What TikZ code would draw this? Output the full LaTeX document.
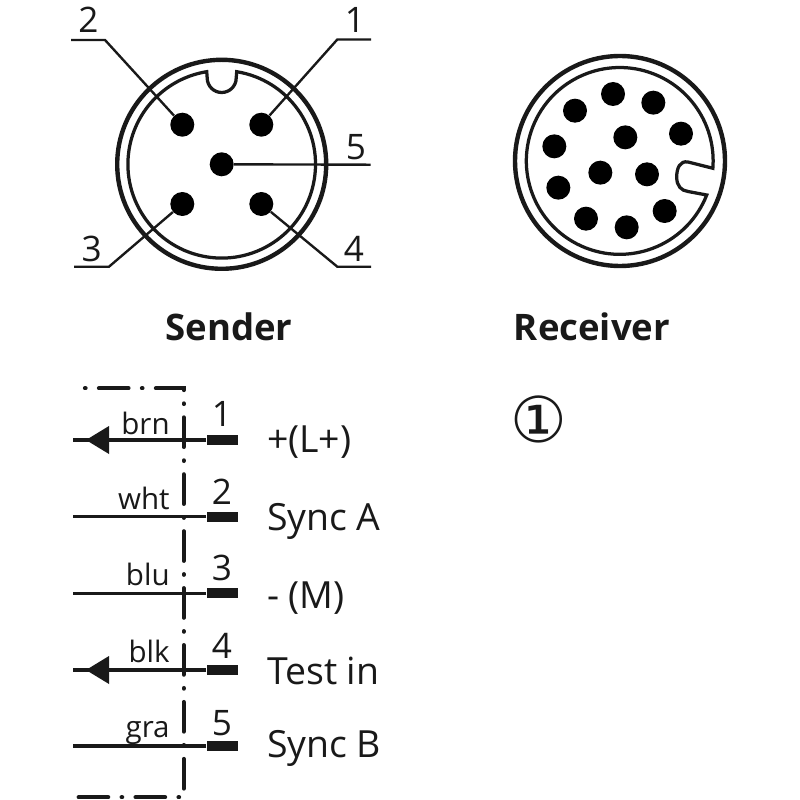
\documentclass[tikz,border=0pt]{standalone}
\usepackage{fontspec}
\setmainfont{Open Sans}
\newfontfamily\symfont{DejaVu Sans}
\usetikzlibrary{calc}
\tikzset{
  x=0.02cm,y=-0.02cm,
  pin/.style={circle,fill=black,draw=none,minimum size=0.48cm,inner sep=0pt},
  leader/.style={line width=1.35pt,black!90},
  outerring/.style={line width=2.5pt,black!90},
  innerring/.style={line width=1.85pt,black!90,miter limit=6},
  wire/.style={line width=1.8pt,black!90},
  bar/.style={fill=black!90,draw=none,minimum width=0.62cm,minimum height=0.2cm,inner sep=0pt},
  head/.style={fill=black!90,draw=none},
  frame/.style={line width=2.4pt,black!90,line cap=round,dash pattern=on 0.3pt off 7.65pt on 16.8pt off 7.65pt},
  lab/.style={inner sep=0pt,text=black!90},
  digit/.style={lab,anchor=base,font=\fontsize{20}{20}\selectfont},
  signal/.style={lab,anchor=base west,font=\fontsize{21.3}{21.3}\selectfont},
  colour/.style={lab,anchor=base east,font=\fontsize{16.8}{16.8}\selectfont},
  title/.style={lab,anchor=base,font=\fontsize{20.8}{20.8}\selectfont\bfseries},
}
\begin{document}
\begin{tikzpicture}
\path[fill=white,use as bounding box] (0,0) rectangle (800,800);
% sender connector
\draw[outerring] (221.7,164.3) circle[radius=104.5];
\draw[innerring] (236.7,71.7) arc[start angle=-80.8,end angle=260.8,radius=93.8]
  -- (207.2,78) arc[start angle=180,end angle=0,radius=14.5] -- cycle;
\node[pin] (s1) at (261.3,124.7) {};
\node[pin] (s2) at (182.3,124.7) {};
\node[pin] (s5) at (221.7,164.3) {};
\node[pin] (s3) at (182.3,204) {};
\node[pin] (s4) at (261.3,204) {};
\coordinate (l1a) at (371,39.5); \coordinate (l1b) at (337.3,39.5);
\coordinate (l2a) at (71,40);    \coordinate (l2b) at (105,40);
\coordinate (l3a) at (74,266.7); \coordinate (l3b) at (109,266.7);
\coordinate (l4a) at (371,266.7);\coordinate (l4b) at (337.3,266.7);
\coordinate (l5a) at (370.7,164.7);
\draw[leader] (l1a) -- (l1b) -- (s1);
\draw[leader] (l2a) -- (l2b) -- (s2);
\draw[leader] (l3a) -- (l3b) -- (s3);
\draw[leader] (l4a) -- (l4b) -- (s4);
\draw[leader] (l5a) -- (s5);
\node[digit] (n1) at (355,33) {1};
\node[digit] (n2) at (88.3,33) {2};
\node[digit] (n5) at (356,160) {5};
\node[digit] (n3) at (91.7,261.7) {3};
\node[digit] (n4) at (354,261.7) {4};
% receiver connector
\draw[outerring] (620,161) circle[radius=105];
\draw[innerring] (706.7,195) arc[start angle=21.4,end angle=364.5,radius=93.4]
  -- (688,162) .. controls (680,160.5) and (676.7,168) .. (676.7,177)
  .. controls (676.7,186) and (681,190.5) .. (688,191.5) -- cycle;
\foreach \i/\a/\b in {1/339/102,2/460/128,3/543/221,4/225/152,5/376/232,6/163/259,7/301/338,8/441/343,9/175/383,10/494/453,11/258/476,12/380/502}
  \node[pin] (r\i) at ({500+\a/3},{60+\b/3}) {};
% titles
\node[title] (tS) at (229,340.5) {Sender};
\node[title] (tR) at (592,340.5) {Receiver};
\node[lab,font=\symfont\fontsize{36}{36}\selectfont] (circ) at (539,419) {①};
% frame
\coordinate (f0) at (85,388.3);
\coordinate (f1) at (183.7,388.3);
\coordinate (f2) at (183.7,797.3);
\coordinate (f3) at (73,797.3);
\draw[frame] (f0) -- (f1) -- (f2) -- (f3);
% wires
\foreach \i/\y/\col/\cb/\db/\sb/\sig in {
  1/440/brn/434/426.7/452/{+(L+)},
  2/516.7/wht/509/504.3/530/{Sync A},
  3/593.3/blu/585/580.7/608/{- (M)},
  4/670/blk/662.7/658/684/{Test in},
  5/746/gra/737.7/735/757.5/{Sync B}}{
  \node[bar] (b\i) at (222.2,\y) {};
  \coordinate (w\i) at (73.3,\y);
  \draw[wire] (b\i) -- (w\i);
  \node[colour] (c\i) at (170,\cb) {\col};
  \node[digit] (d\i) at (222,\db) {\i};
  \node[signal] (t\i) at (266.7,\sb) {\sig};
}
\fill[head] (86,440) -- (109,426) -- (109,454) -- cycle;
\fill[head] (86,670) -- (109,656) -- (109,684) -- cycle;
\end{tikzpicture}
\end{document}
